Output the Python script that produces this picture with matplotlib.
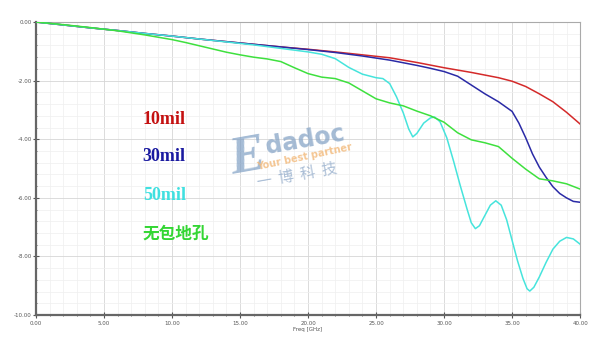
import matplotlib
matplotlib.use("Agg")
import matplotlib.pyplot as plt
from matplotlib.ticker import MultipleLocator, FormatStrFormatter

# values (Freq in GHz, insertion loss in dB)
freq_red = [0, 2, 4, 6, 8, 10, 12, 14, 16, 18, 20, 22, 24, 26, 28, 30, 32, 34, 35, 36, 37, 38, 39, 40]
loss_10mil = [0, -0.10, -0.20, -0.29, -0.39, -0.48, -0.58, -0.67, -0.76, -0.85, -0.93, -1.02,
              -1.12, -1.22, -1.38, -1.56, -1.72, -1.90, -2.02, -2.20, -2.45, -2.72, -3.08, -3.48]

freq_blue = [0, 2, 4, 6, 8, 10, 12, 14, 16, 18, 20, 22, 24, 26, 27, 28, 29, 30, 31, 32, 33, 34, 35,
             35.5, 36, 36.5, 37, 37.5, 38, 38.5, 39, 39.5, 40]
loss_30mil = [0, -0.10, -0.20, -0.29, -0.39, -0.48, -0.58, -0.67, -0.76, -0.85, -0.94, -1.04,
              -1.16, -1.30, -1.39, -1.48, -1.58, -1.69, -1.85, -2.15, -2.45, -2.72, -3.05,
              -3.45, -3.95, -4.50, -4.95, -5.30, -5.62, -5.85, -6.00, -6.12, -6.15]

freq_cyan = [0, 2, 4, 6, 8, 10, 12, 14, 16, 18, 20, 21, 22, 23, 24, 25, 25.5, 26, 26.5, 27, 27.4,
             27.7, 28, 28.5, 29, 29.3, 29.7, 30.2, 30.7, 31.2, 31.7, 32.0, 32.3, 32.6, 33.0, 33.4,
             33.8, 34.2, 34.6, 35.0, 35.4, 35.8, 36.1, 36.3, 36.6, 37.0, 37.5, 38.0, 38.5, 39.0,
             39.5, 40]
loss_50mil = [0, -0.10, -0.20, -0.29, -0.39, -0.48, -0.58, -0.68, -0.78, -0.90, -1.02, -1.10,
              -1.25, -1.55, -1.78, -1.90, -1.93, -2.10, -2.55, -3.10, -3.65, -3.92, -3.80, -3.45,
              -3.27, -3.24, -3.40, -3.95, -4.75, -5.60, -6.40, -6.85, -7.05, -6.95, -6.60, -6.25,
              -6.10, -6.25, -6.75, -7.45, -8.15, -8.75, -9.10, -9.18, -9.05, -8.70, -8.20, -7.75,
              -7.48, -7.35, -7.40, -7.58]

freq_green = [0, 2, 4, 6, 8, 10, 11, 12, 13, 14, 15, 16, 17, 18, 19, 20, 21, 22, 23, 24, 25, 26,
              27, 28, 29, 30, 31, 32, 33, 34, 35, 36, 37, 38, 39, 40]
loss_nofence = [0, -0.09, -0.19, -0.30, -0.44, -0.60, -0.70, -0.81, -0.92, -1.03, -1.12, -1.20,
                -1.26, -1.35, -1.56, -1.76, -1.88, -1.93, -2.08, -2.35, -2.62, -2.76, -2.86,
                -3.04, -3.20, -3.42, -3.78, -4.02, -4.12, -4.25, -4.65, -5.02, -5.35, -5.42,
                -5.52, -5.70]

labels = ["10mil", "30mil", "50mil", "无包地孔"]
label_colors = ["#c41010", "#1a1aa0", "#40e0e0", "#33d633"]
line_colors = ["#d42a2a", "#2a2aa6", "#46e4dc", "#3ee03e"]

fig = plt.figure(figsize=(6.10, 3.44), dpi=100)
ax = fig.add_axes([0.059, 0.084, 0.892, 0.852])

series = [(freq_red, loss_10mil), (freq_blue, loss_30mil),
          (freq_cyan, loss_50mil), (freq_green, loss_nofence)]
for (f, v), c in zip(series, line_colors):
    ax.plot(f, v, color=c, lw=1.1, zorder=3)

ax.set_xlim(0, 40)
ax.set_ylim(-10, 0)
ax.xaxis.set_major_locator(MultipleLocator(5))
ax.xaxis.set_minor_locator(MultipleLocator(1))
ax.yaxis.set_major_locator(MultipleLocator(2))
ax.yaxis.set_minor_locator(MultipleLocator(0.4))
ax.xaxis.set_major_formatter(FormatStrFormatter("%.2f"))
ax.yaxis.set_major_formatter(FormatStrFormatter("%.2f"))
ax.grid(which="major", color="#d6d6d6", lw=0.6)
ax.grid(which="minor", color="#efefef", lw=0.5)
ax.set_axisbelow(True)

ax.tick_params(which="both", labelsize=4, colors="#555555", direction="inout")
ax.tick_params(which="major", length=4, width=0.8)
ax.tick_params(which="minor", length=2, width=0.6)
ax.tick_params(axis="x", pad=2)
ax.tick_params(axis="y", pad=1)
for side in ("left", "bottom"):
    ax.spines[side].set_color("#666666")
    ax.spines[side].set_linewidth(1.6)
for side in ("top", "right"):
    ax.spines[side].set_color("#aaaaaa")
    ax.spines[side].set_linewidth(0.8)
ax.set_xlabel("Freq [GHz]", fontsize=4, color="#555555", labelpad=1)

# legend-like labels
ys = [0.654, 0.545, 0.433, 0.322]
for txt, c, y in zip(labels, label_colors, ys):
    if txt.endswith("mil"):
        fig.text(0.234, y, txt, color=c, fontsize=13, fontweight="bold",
                 family="Liberation Serif", va="center", ha="left")
    else:
        fig.text(0.234, y, txt, color=c, fontsize=12, fontweight="bold",
                 family=["Noto Sans CJK SC", "DejaVu Sans"], va="center", ha="left")

# watermark
fig.text(0.405, 0.54, "E", color="#7f9fc4", alpha=0.7, fontsize=38, fontweight="bold",
         family="Liberation Serif", style="italic", rotation=10, ha="center", va="center")
fig.text(0.50, 0.593, "dadoc", color="#86a4c6", alpha=0.75, fontsize=17, fontweight="bold",
         family="DejaVu Sans", rotation=10, ha="center", va="center")
fig.text(0.50, 0.545, "Your best partner", color="#f2b878", alpha=0.8, fontsize=7,
         fontweight="bold", family="DejaVu Sans", rotation=12, ha="center", va="center")
fig.text(0.487, 0.49, "一  博  科  技", color="#8ea8c8", alpha=0.75, fontsize=11,
         family=["Noto Sans CJK SC", "DejaVu Sans"], rotation=10, ha="center", va="center")

fig.savefig("out.png", dpi=100, facecolor="white")
